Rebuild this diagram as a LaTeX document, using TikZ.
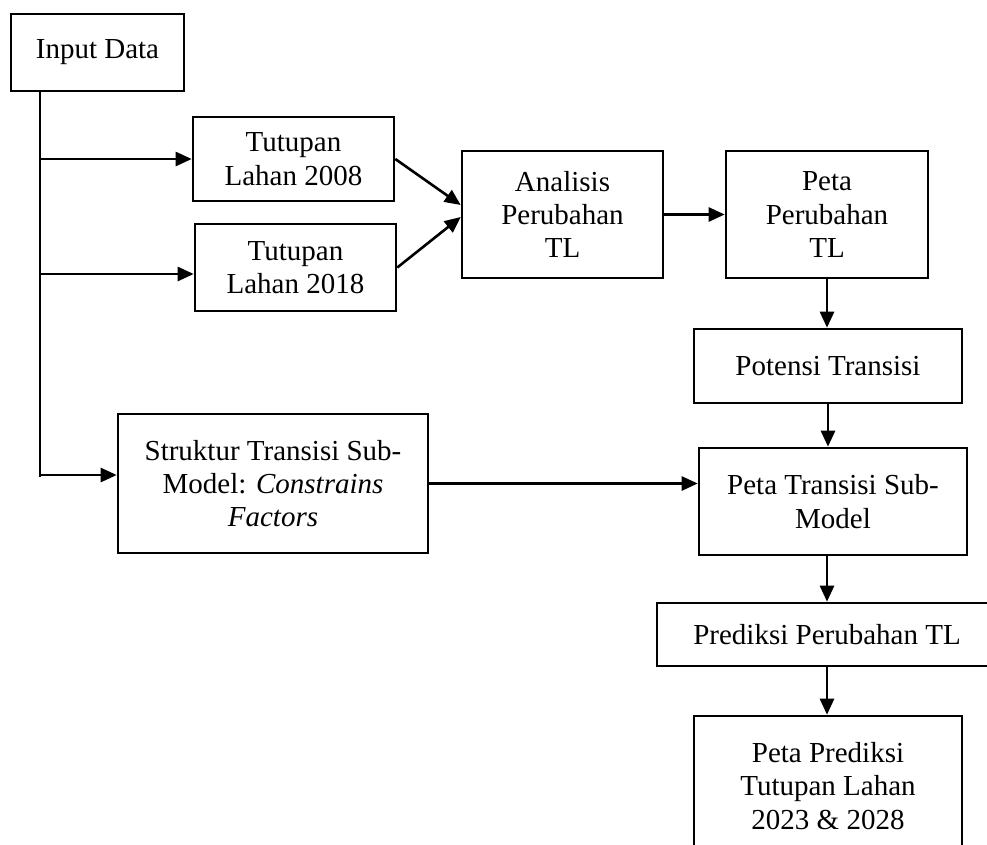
\documentclass[tikz,border=0pt]{standalone}
\usepackage{fontspec}
\setmainfont{Liberation Serif}
\usetikzlibrary{arrows.meta}
\begin{document}
\begin{tikzpicture}[x=1pt,y=-1pt,
  box/.style={draw, line width=2.6pt, inner sep=0pt, align=center,
    font=\fontsize{29}{33.4}\selectfont},
  link/.style={line width=2.6pt},
  arr/.style={link, -{Triangle[length=16pt,width=14pt]}}]
  \useasboundingbox (0,0) rectangle (987,844);
  \clip (0,0) rectangle (987,844);

  % boxes
  \node[box, minimum width=173pt, minimum height=77pt] (inp) at (97.5,52.5) {Input Data};
  \node[box, minimum width=201pt, minimum height=84pt] (t08) at (293.5,159) {Tutupan\\Lahan 2008};
  \node[box, minimum width=201pt, minimum height=87pt] (t18) at (295.5,267.5) {Tutupan\\Lahan 2018};
  \node[box, minimum width=201pt, minimum height=127pt] (ana) at (562.5,214.5) {Analisis\\Perubahan\\TL};
  \node[box, minimum width=202pt, minimum height=127pt] (pp) at (827,214.5) {Peta\\Perubahan\\TL};
  \node[box, minimum width=268pt, minimum height=74pt] (pot) at (828,366) {Potensi Transisi};
  \node[box, minimum width=310pt, minimum height=139pt] (str) at (273,483.5)
    {Struktur Transisi Sub-\\Model: \textit{Constrains}\\\textit{Factors}};
  \node[box, minimum width=268pt, minimum height=107pt] (pts) at (833,501.5) {Peta Transisi Sub-\\Model};
  \node[box, minimum width=340pt, minimum height=63pt] (pred) at (827,634.5) {Prediksi Perubahan TL};
  \node[box, minimum width=268pt, minimum height=140pt] (ppred) at (828,786)
    {Peta Prediksi\\Tutupan Lahan\\2023 \& 2028};

  % input trunk and its branches
  \coordinate (trunk) at (40,477);
  \coordinate (b18) at (40,274);
  \coordinate (bstr) at (40,475);
  \draw[link] (inp.south -| trunk) -- (trunk);
  \draw[arr] (trunk |- t08.west) -- (t08.west);
  \draw[arr] (b18) -- (b18 -| t18.west);
  \draw[arr] (bstr) -- (bstr -| str.west);

  % main flow
  \draw[arr] (t08.east) -- ([yshift=9.5pt]ana.west);
  \draw[arr] (t18.east) -- ([yshift=-2.5pt]ana.west);
  \draw[arr] (ana.east) -- (pp.west);
  \draw[arr] (pp.south) -- (pp.south |- pot.north);
  \draw[arr] (pot.south) -- (pot.south |- pts.north);
  \draw[arr] (str.east) -- (str.east -| pts.west);
  \draw[arr] (pts.south -| pred.north) -- (pred.north);
  \draw[arr] (pred.south) -- (pred.south |- ppred.north);
\end{tikzpicture}
\end{document}
